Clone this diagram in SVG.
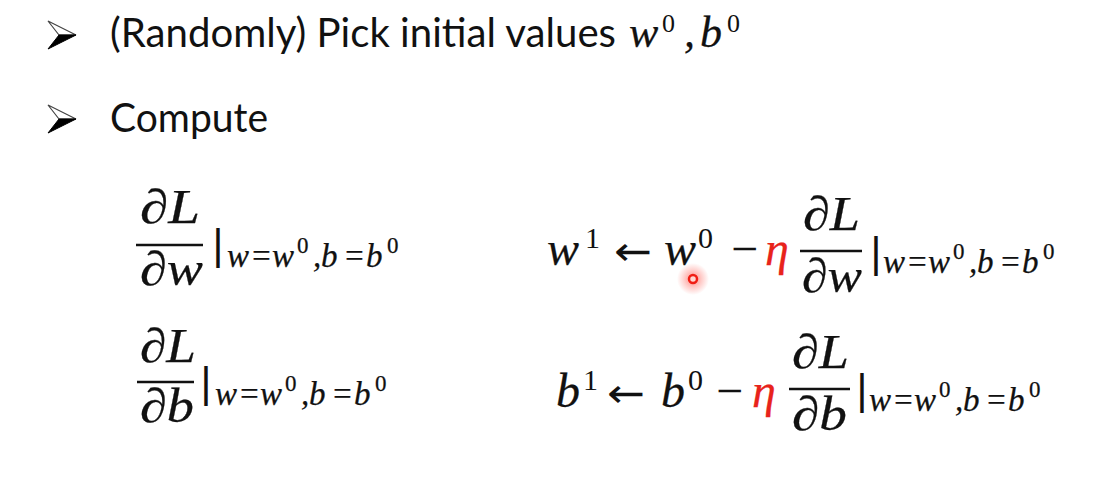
<svg xmlns="http://www.w3.org/2000/svg" width="1118" height="483" viewBox="0 0 1118 483">
<defs>
<style>
.t{font-family:Lato,"Liberation Sans",sans-serif;font-size:40px;fill:#111}
.m{font-family:"Liberation Serif",serif;font-style:italic;fill:#111;stroke:#111;stroke-width:0.25}
.u{font-family:"Liberation Serif",serif;font-style:normal;fill:#111}
.big{font-size:48px}
.sub{font-size:33px}
.ss{font-size:23px;font-style:normal}
.sp{font-size:26px;font-style:normal}
.sp2{font-size:30px;font-style:normal}
.eta{fill:#e8231b;stroke:#e8231b}
.arr{font-family:"DejaVu Sans",sans-serif;font-size:40px;fill:#111}
.vb{font-family:"Liberation Sans",sans-serif;font-size:42px;fill:#111;text-anchor:middle}
.bar{stroke:#111;stroke-width:2.5}
.bl1{fill:#fff;stroke:#444;stroke-width:1.2;stroke-linejoin:miter}
.bl2{fill:#000;stroke:#000;stroke-width:1}
</style>
<radialGradient id="glow">
<stop offset="0" stop-color="#ff3b30" stop-opacity="0.6"/>
<stop offset="0.55" stop-color="#ff3b30" stop-opacity="0.25"/>
<stop offset="1" stop-color="#ff3b30" stop-opacity="0"/>
</radialGradient>
</defs>
<rect width="1118" height="483" fill="#fff"/>

<g id="bullet1">
<polygon class="bl1" points="48,21 76,35 59,35"/>
<polygon class="bl2" points="59,35 76,35 48,49"/>
<text class="t" x="110" y="47" textLength="506" lengthAdjust="spacingAndGlyphs">(Randomly) Pick initial values</text>
<text class="m" font-size="44" x="629" y="47">w</text>
<text class="u sp" x="662" y="32">0</text>
<text class="m" font-size="44" x="684" y="47">,</text>
<text class="m" font-size="44" x="700" y="47">b</text>
<text class="u sp" x="727" y="32">0</text>
</g>

<g id="bullet2">
<polygon class="bl1" points="48,105 76,119 59,119"/>
<polygon class="bl2" points="59,119 76,119 48,133"/>
<text class="t" x="110" y="132" textLength="158" lengthAdjust="spacingAndGlyphs">Compute</text>
</g>

<g id="grad-w">
<text class="m big" x="140" y="223" textLength="60" lengthAdjust="spacingAndGlyphs">∂L</text>
<line class="bar" x1="136" y1="245" x2="203" y2="245"/>
<text class="m big" x="140" y="285" textLength="63" lengthAdjust="spacingAndGlyphs">∂w</text>
<text class="vb" x="218" y="259">|</text>
<text class="m sub" y="267"><tspan x="227 250 272">w=w</tspan><tspan class="ss" x="297" dy="-14">0</tspan><tspan x="313 321 343 366" dy="14">,b=b</tspan><tspan class="ss" x="387" dy="-14">0</tspan></text>
</g>

<g id="grad-b">
<text class="m big" x="140" y="362" textLength="56" lengthAdjust="spacingAndGlyphs">∂L</text>
<line class="bar" x1="137" y1="382" x2="194" y2="382"/>
<text class="m big" x="140" y="422" textLength="54" lengthAdjust="spacingAndGlyphs">∂b</text>
<text class="vb" x="206" y="397">|</text>
<text class="m sub" y="405"><tspan x="215 238 260">w=w</tspan><tspan class="ss" x="285" dy="-14">0</tspan><tspan x="301 309 331 354" dy="14">,b=b</tspan><tspan class="ss" x="375" dy="-14">0</tspan></text>
</g>

<g id="update-w">
<text class="m big" x="547" y="265">w</text>
<text class="u sp2" x="585" y="248">1</text>
<text class="arr" x="614" y="265" textLength="38" lengthAdjust="spacingAndGlyphs">←</text>
<text class="m big" x="664" y="265">w</text>
<text class="u sp2" x="698" y="248">0</text>
<text class="u big" x="731" y="265">−</text>
<text class="m big eta" x="765" y="265">η</text>
<text class="m big" x="803" y="230" textLength="57" lengthAdjust="spacingAndGlyphs">∂L</text>
<line class="bar" x1="800" y1="251" x2="862" y2="251"/>
<text class="m big" x="802" y="292" textLength="60" lengthAdjust="spacingAndGlyphs">∂w</text>
<text class="vb" x="876" y="267">|</text>
<text class="m sub" y="273"><tspan x="883 906 928">w=w</tspan><tspan class="ss" x="953" dy="-14">0</tspan><tspan x="969 977 999 1022" dy="14">,b=b</tspan><tspan class="ss" x="1043" dy="-14">0</tspan></text>
</g>

<g id="update-b">
<text class="m big" x="556" y="407">b</text>
<text class="u sp2" x="583" y="390">1</text>
<text class="arr" x="607" y="407" textLength="38" lengthAdjust="spacingAndGlyphs">←</text>
<text class="m big" x="661" y="407">b</text>
<text class="u sp2" x="688" y="390">0</text>
<text class="u big" x="716" y="407">−</text>
<text class="m big eta" x="752" y="407">η</text>
<text class="m big" x="792" y="368" textLength="57" lengthAdjust="spacingAndGlyphs">∂L</text>
<line class="bar" x1="789" y1="389" x2="850" y2="389"/>
<text class="m big" x="792" y="430" textLength="55" lengthAdjust="spacingAndGlyphs">∂b</text>
<text class="vb" x="862" y="404">|</text>
<text class="m sub" y="411"><tspan x="869 892 914">w=w</tspan><tspan class="ss" x="939" dy="-14">0</tspan><tspan x="955 963 985 1008" dy="14">,b=b</tspan><tspan class="ss" x="1029" dy="-14">0</tspan></text>
</g>

<g id="pointer">
<circle cx="693" cy="279" r="16" fill="url(#glow)"/>
<circle cx="693" cy="279" r="4" fill="#ffd6d0" stroke="#f01e14" stroke-width="2.5"/>
</g>
</svg>
